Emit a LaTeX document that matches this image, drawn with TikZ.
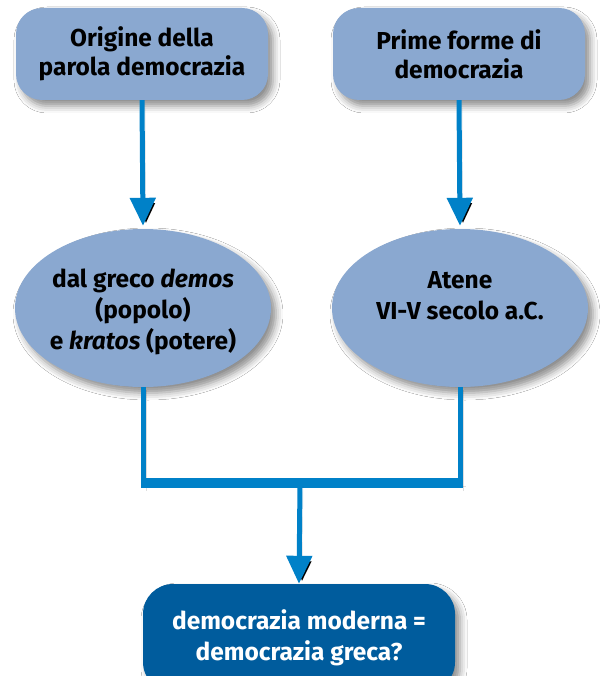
\documentclass[tikz,border=0pt]{standalone}
\usepackage{fontspec}
\setmainfont{Fira Sans}
\usetikzlibrary{arrows.meta,shapes.geometric,shadows.blur}
\definecolor{boxblue}{HTML}{8AA8D0}
\definecolor{arrowblue}{HTML}{0081C8}
\definecolor{darkblue}{HTML}{005C9D}
\begin{document}
\begin{tikzpicture}[x=1pt,y=-1pt,
  shd/.style={blur shadow={shadow xshift=5pt,shadow yshift=-6pt,shadow blur radius=7pt,shadow opacity=45}},
  lightbox/.style={shd,fill=boxblue,rounded corners=26pt,minimum width=252pt,minimum height=92pt,
    inner sep=0pt,align=center,font=\bfseries\fontsize{24.5}{29}\selectfont},
  oval/.style={shd,ellipse,fill=boxblue,minimum width=256pt,minimum height=158pt,inner sep=0pt},
  ovaltext/.style={align=center,font=\bfseries\fontsize{24.5}{31}\selectfont},
  darkbox/.style={shd,fill=darkblue,rounded corners=30pt,minimum width=312pt,minimum height=108pt,
    inner sep=0pt,align=center,text=white,font=\bfseries\fontsize{24.5}{31}\selectfont},
  lineshadow/.style={preaction={draw=black,draw opacity=0.13,transform canvas={shift={(3pt,-3pt)}}}},
  conn/.style={lineshadow,draw=arrowblue,line width=5pt,-{Triangle[width=25pt,length=28pt]}},
  link/.style={lineshadow,draw=arrowblue,line width=5pt},
  bar/.style={lineshadow,draw=arrowblue,line width=10pt}
]
\useasboundingbox (0,0) rectangle (600,676);
\clip (0,0) rectangle (600,676);
\fill[white] (0,0) rectangle (600,676);

\node[lightbox] (TL) at (142,54) {Origine della\\parola democrazia};
\node[lightbox] (TR) at (459,54) {Prime forme di\\democrazia};

\node[oval] (L) at (143,308) {};
\node[oval] (R) at (460,308) {};
\node[ovaltext] (Lt) at (L.center) [yshift=-4pt] {dal greco \textit{demos}\\(popolo)\\e \textit{kratos} (potere)};
\node[ovaltext] (Rt) at (R.center) [yshift=12pt] {Atene\\VI-V secolo a.C.};

\node[darkbox] (B) at (299,638) {democrazia moderna =\\democrazia greca?};

\coordinate (barL) at (141,483);
\coordinate (barR) at (463,483);
\coordinate (barM) at (300,483);
\coordinate (barB) at (300,488);

\draw[conn] (TL.south) -- ([yshift=3pt]L.north);
\draw[conn] (TR.south) -- ([yshift=3pt]R.north);
\draw[link] (L.south) -- (L.south |- barB);
\draw[link] (R.south) -- (R.south |- barB);
\draw[bar] (barL) -- (barR);
\draw[conn] (barM) -- (B.north);
\end{tikzpicture}
\end{document}
